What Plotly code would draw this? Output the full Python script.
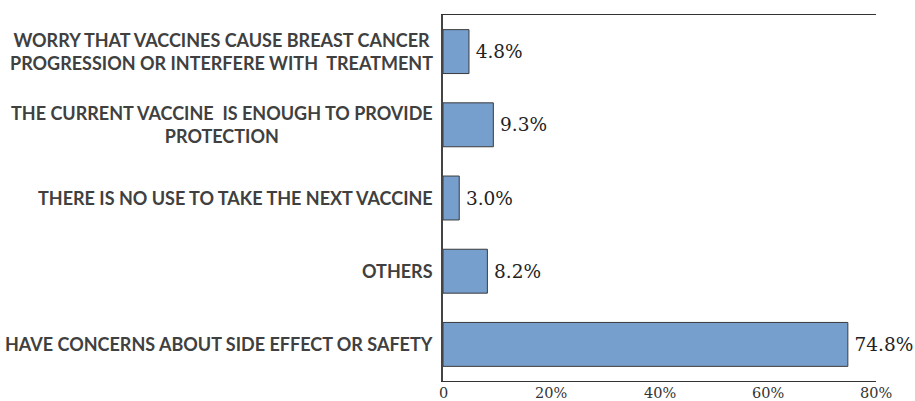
import plotly.graph_objects as go

# Reasons for not taking the next vaccine dose (share of respondents, %)
categories = [
    "WORRY THAT VACCINES CAUSE BREAST CANCER<br>PROGRESSION OR INTERFERE WITH\u00a0 TREATMENT",
    "THE CURRENT VACCINE\u00a0 IS ENOUGH TO PROVIDE<br>PROTECTION",
    "THERE IS NO USE TO TAKE THE NEXT VACCINE",
    "OTHERS",
    "HAVE CONCERNS ABOUT SIDE EFFECT OR SAFETY",
]
values = [4.8, 9.3, 3.0, 8.2, 74.8]
value_labels = ["4.8%", "9.3%", "3.0%", "8.2%", "74.8%"]

tick_vals = [0, 20, 40, 60, 80]
tick_text = ["0", "20%", "40%", "60%", "80%"]

ids = list(range(len(categories)))

fig = go.Figure(
    go.Bar(
        x=values,
        y=ids,
        orientation="h",
        width=0.6,
        marker=dict(color="#779fcd", line=dict(color="#3a3a3a", width=1)),
        text=value_labels,
        texttemplate="\u2009%{text}",
        textposition="outside",
        constraintext="none",
        cliponaxis=False,
        textfont=dict(family="DejaVu Serif", size=18.5, color="#222222"),
        hoverinfo="skip",
    )
)

# Category labels drawn as annotations so wrapped lines are centred
for i, name in zip(ids, categories):
    fig.add_annotation(
        x=0, xref="paper", y=i, yref="y",
        xanchor="right", yanchor="middle", xshift=-8,
        text=name, showarrow=False, align="center",
        font=dict(family="Lato", size=18, weight="bold", color="#404040"),
    )

# Percentage tick labels along the bottom axis, placed at the tick values
for v, t in zip(tick_vals, tick_text):
    fig.add_annotation(
        x=v, xref="x", y=0, yref="paper",
        xanchor="center", yanchor="top", yshift=-3, borderpad=0,
        text=t, showarrow=False,
        font=dict(family="DejaVu Serif", size=14.5, color="#333333"),
    )

fig.update_layout(
    width=915, height=401,
    margin=dict(l=443, r=39, t=15, b=20, autoexpand=False),
    paper_bgcolor="white", plot_bgcolor="white",
    showlegend=False,
    xaxis=dict(
        range=[0, 80], tickvals=tick_vals, showticklabels=False,
        showgrid=False, zeroline=False, automargin=False,
        showline=True, linecolor="#333333", linewidth=1, mirror=True,
        ticks="",
    ),
    yaxis=dict(
        range=[4.5, -0.5], showticklabels=False, showgrid=False, zeroline=False,
        automargin=False,
        showline=True, linecolor="#444444", linewidth=2, ticks="",
    ),
)

fig.write_html("out.html")
